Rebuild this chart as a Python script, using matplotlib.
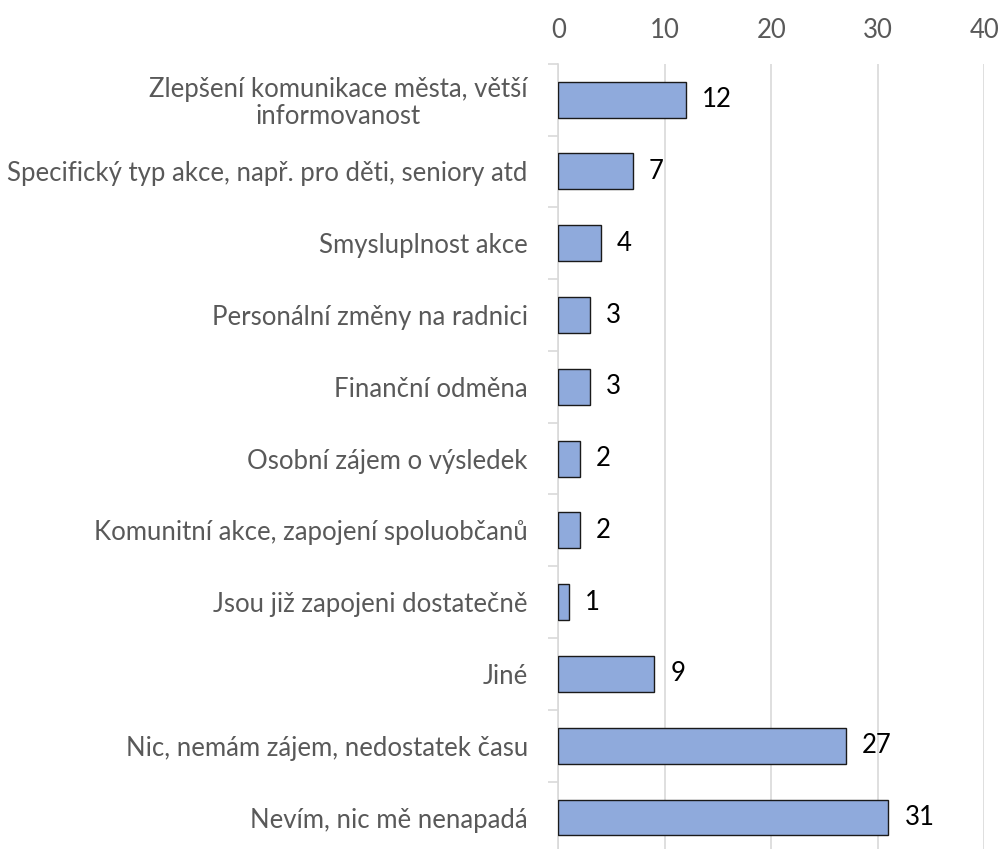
import numpy as np
import matplotlib.pyplot as plt

# Odpovědi na otázku, co by respondenty motivovalo k většímu zapojení
kategorie = [
    "Zlepšení komunikace města, větší\ninformovanost",
    "Specifický typ akce, např. pro děti, seniory atd",
    "Smysluplnost akce",
    "Personální změny na radnici",
    "Finanční odměna",
    "Osobní zájem o výsledek",
    "Komunitní akce, zapojení spoluobčanů",
    "Jsou již zapojeni dostatečně",
    "Jiné",
    "Nic, nemám zájem, nedostatek času",
    "Nevím, nic mě nenapadá",
]
pocty = [12, 7, 4, 3, 3, 2, 2, 1, 9, 27, 31]
osa_x_ticks = [0, 10, 20, 30, 40]

FONT = "Lato"
VEL = 18.5
SEDA = "#595959"
MRIZKA = "#D9D9D9"
BARVA = "#8FAADC"

fig = plt.figure(figsize=(9.99, 8.49), dpi=100)
ax = fig.add_axes([0.5589, -0.0052, 0.4264, 0.9301])

y = np.arange(len(kategorie))
ax.barh(y, pocty, height=0.5, color=BARVA, edgecolor="#1a1a1a", linewidth=1.0, zorder=3)

# hodnoty vpravo od sloupců
for yi, v in zip(y, pocty):
    ax.text(v + 1.5, yi, str(v), va="center", ha="left",
            fontsize=VEL, family=FONT, color="black")

ax.set_xlim(0, 40)
ax.set_ylim(len(kategorie) - 0.5, -0.5)
ax.set_xticks(osa_x_ticks)
ax.xaxis.tick_top()
ax.tick_params(axis="x", length=0, pad=15, labelsize=VEL, labelcolor=SEDA)
ax.grid(axis="x", color=MRIZKA, linewidth=1.2, zorder=0)

ax.set_yticks(y)
ax.set_yticklabels(kategorie, fontsize=VEL, color=SEDA, family=FONT,
                   multialignment="center", linespacing=1.1)
ax.tick_params(axis="y", which="major", length=0, pad=22)
ax.set_yticks(np.arange(len(kategorie) + 1) - 0.5, minor=True)
ax.tick_params(axis="y", which="minor", length=7, width=1.2, color=MRIZKA)

for lbl in ax.get_xticklabels():
    lbl.set_family(FONT)

for s in ["top", "right", "bottom"]:
    ax.spines[s].set_visible(False)
ax.spines["left"].set_color(MRIZKA)
ax.spines["left"].set_linewidth(1.2)

fig.savefig("out.png", dpi=100)
